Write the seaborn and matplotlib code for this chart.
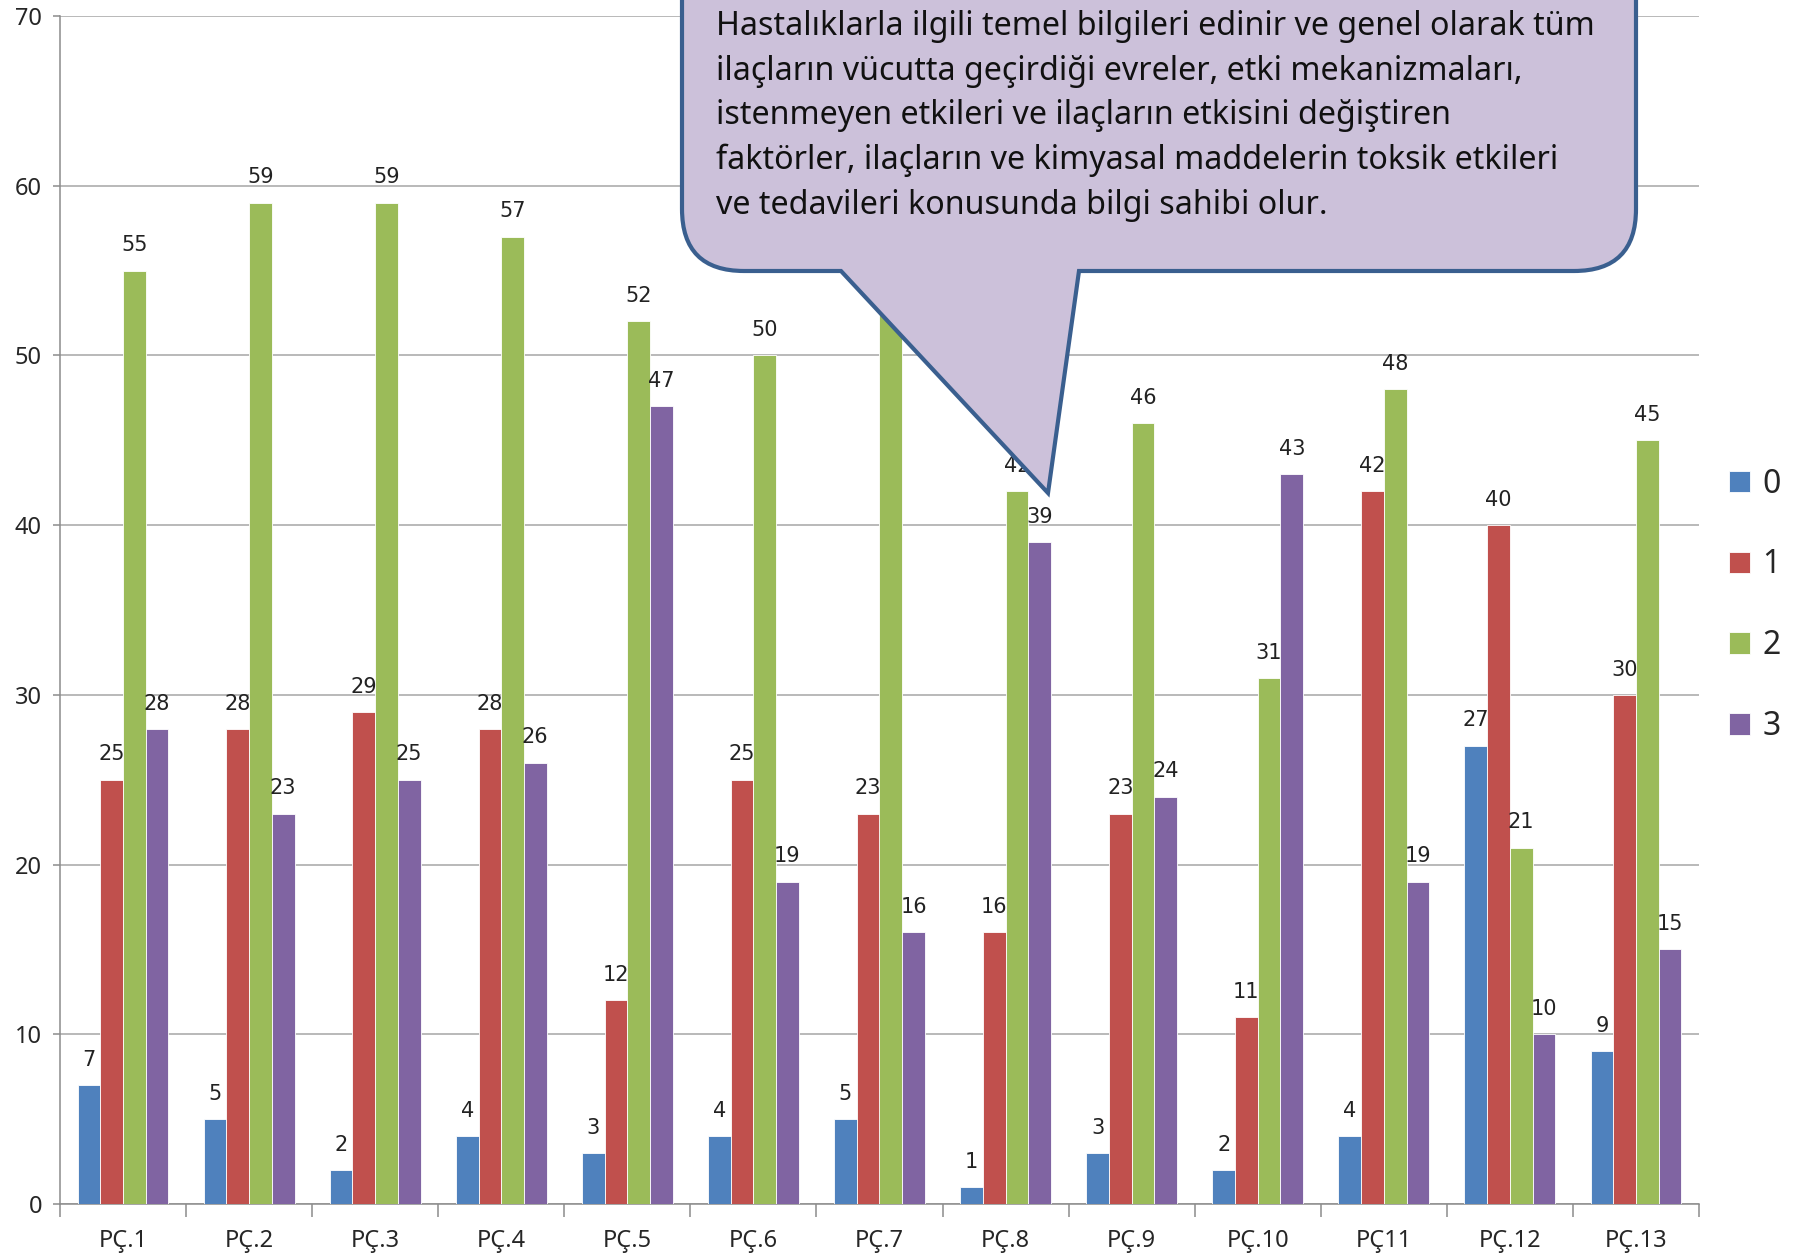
import numpy as np
import pandas as pd
import matplotlib
matplotlib.use("Agg")
import matplotlib.pyplot as plt
import seaborn as sns
from matplotlib.path import Path
from matplotlib.patches import PathPatch

# categories and series
categories = ["PÇ.1", "PÇ.2", "PÇ.3", "PÇ.4", "PÇ.5", "PÇ.6", "PÇ.7",
              "PÇ.8", "PÇ.9", "PÇ.10", "PÇ11", "PÇ.12", "PÇ.13"]
score_0 = [7, 5, 2, 4, 3, 4, 5, 1, 3, 2, 4, 27, 9]
score_1 = [25, 28, 29, 28, 12, 25, 23, 16, 23, 11, 42, 40, 30]
score_2 = [55, 59, 59, 57, 52, 50, 56, 42, 46, 31, 48, 21, 45]
score_3 = [28, 23, 25, 26, 47, 19, 16, 39, 24, 43, 19, 10, 15]
series_names = ["0", "1", "2", "3"]
y_ticks = [0, 10, 20, 30, 40, 50, 60, 70]

callout_text = ("Hastalıklarla ilgili temel bilgileri edinir ve genel olarak tüm\n"
                "ilaçların vücutta geçirdiği evreler, etki mekanizmaları,\n"
                "istenmeyen etkileri ve ilaçların etkisini değiştiren\n"
                "faktörler, ilaçların ve kimyasal maddelerin toksik etkileri\n"
                "ve tedavileri konusunda bilgi sahibi olur.")

palette = ["#4F81BD", "#C0504D", "#9BBB59", "#8064A2"]

rows = []
for name, vals in zip(series_names, [score_0, score_1, score_2, score_3]):
    for cat, v in zip(categories, vals):
        rows.append({"cat": cat, "series": name, "value": v})
df = pd.DataFrame(rows)

sns.set_style("white")
plt.rcParams["font.family"] = ["Noto Sans", "DejaVu Sans"]

W, H = 1806, 1256
fig = plt.figure(figsize=(W / 100, H / 100), dpi=100)
ax = fig.add_axes([60 / W, 1 - 1204 / H, (1699 - 60) / W, (1204 - 16) / H])

sns.barplot(data=df, x="cat", y="value", hue="series", order=categories,
            hue_order=series_names, palette=palette, width=0.72,
            saturation=1, edgecolor="white", linewidth=0.6, ax=ax, zorder=3)

for cont in ax.containers:
    ax.bar_label(cont, padding=11, fontsize=15, color="#222222",
                 family="DejaVu Sans")

ax.set_ylim(0, 70)
ax.set_xlim(-0.5, len(categories) - 0.5)
ax.set_yticks(y_ticks)
ax.yaxis.grid(True, color="#A6A6A6", linewidth=1.1)
ax.set_axisbelow(True)
ax.set_xlabel("")
ax.set_ylabel("")

for side in ["top", "right"]:
    ax.spines[side].set_visible(False)
for side in ["left", "bottom"]:
    ax.spines[side].set_color("#8C8C8C")
    ax.spines[side].set_linewidth(1.1)

ax.set_xticks(np.arange(-0.5, len(categories)), minor=True)
ax.tick_params(axis="x", which="major", length=0, labelsize=17, pad=18)
ax.tick_params(axis="x", which="minor", length=9, color="#8C8C8C", width=1.1,
               direction="out", bottom=True)
ax.tick_params(axis="y", length=5, color="#8C8C8C", width=1.1, labelsize=17,
               direction="out", left=True, pad=8)

ax.legend(loc="center left", bbox_to_anchor=(1716 / W, 0.518),
          bbox_transform=fig.transFigure, frameon=False, fontsize=23,
          handlelength=0.65, handleheight=0.65, handletextpad=0.4,
          labelspacing=1.5, borderaxespad=0)

# callout bubble (figure pixel coords, image y downward)
L, R, B, T, r = 682, 1636, 271, -60, 62
tail_l, tail_r, tip = 841, 1079, (1048, 493)
pts = [(L, T), (L, B - r), (L, B), (L + r, B), (tail_l, B), tip,
       (tail_r, B), (R - r, B), (R, B), (R, B - r), (R, T), (L, T)]
codes = [Path.MOVETO, Path.LINETO, Path.CURVE3, Path.CURVE3, Path.LINETO,
         Path.LINETO, Path.LINETO, Path.LINETO, Path.CURVE3, Path.CURVE3,
         Path.LINETO, Path.CLOSEPOLY]
verts = [(x / W, 1 - y / H) for x, y in pts]
bubble = PathPatch(Path(verts, codes), facecolor="#CCC1DA", edgecolor="#3A5F8F",
                   linewidth=3, transform=fig.transFigure, zorder=10,
                   joinstyle="miter")
fig.patches.append(bubble)
fig.text(716 / W, 1 - 10 / H, callout_text, ha="left", va="top", fontsize=23.2,
         linespacing=1.46, color="#111111", zorder=11)

fig.savefig("out.png", dpi=100)
